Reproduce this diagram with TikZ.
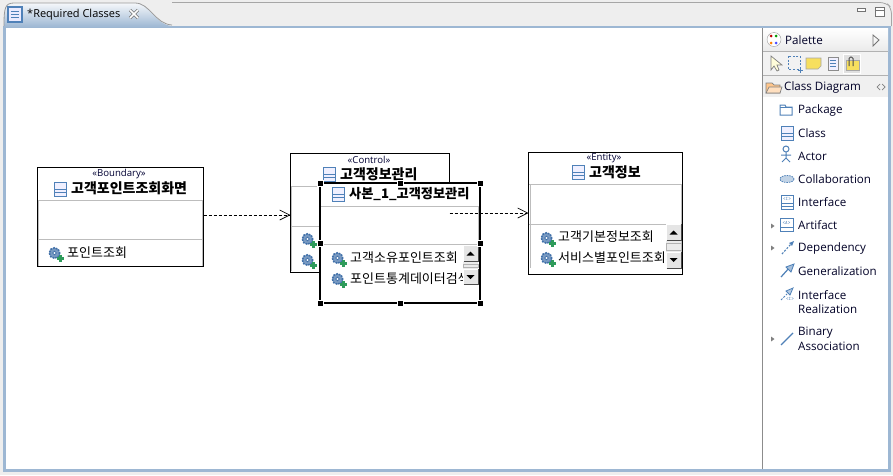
\documentclass[tikz,border=0pt]{standalone}
\usepackage{fontspec}
\setmainfont{Open Sans}
\newfontfamily\kr{Noto Sans CJK KR}
\usetikzlibrary{arrows.meta,calc}
\definecolor{frameblue}{HTML}{9DB7D3}
\definecolor{outerbg}{HTML}{EEEEEE}
\definecolor{compline}{HTML}{BDBDBD}
\definecolor{iconblue}{HTML}{4F81B8}
\definecolor{gearblue}{HTML}{3F6FA8}
\definecolor{plusgreen}{HTML}{2E9B5B}
\definecolor{notey}{HTML}{F7DF5E}
\newcommand{\myscroll}[4]{% x, y top, down button top, bottom
  \fill[black!8] (#1,#2) rectangle (#1+15,#4);
  \draw[black!30,line width=.7pt] (#1,#2+19) rectangle (#1+15,#3-2);
  \draw[btn] (#1,#2) rectangle (#1+15,#2+16.5);
  \draw[btn] (#1,#3) rectangle (#1+15,#4);
  \draw[black!70,line width=1pt] (#1+.5,#2+16.8) -- (#1+15.5,#2+16.8) -- (#1+15.5,#2);
  \draw[black!70,line width=1pt] (#1+.5,#4+.5) -- (#1+15.5,#4+.5) -- (#1+15.5,#3);
  \fill[black] (#1+3.5,#2+10.5) -- (#1+11.5,#2+10.5) -- (#1+7.5,#2+6.5) -- cycle;
  \fill[black] (#1+3.5,#3+6) -- (#1+11.5,#3+6) -- (#1+7.5,#3+10) -- cycle;
}
\tikzset{
  x=1pt,y=-1pt,
  umlbox/.style={draw=black,line width=1pt,fill=white,inner sep=0pt,outer sep=0pt,anchor=north west},
  selbox/.style={draw=black,line width=2pt,fill=white,inner sep=0pt,outer sep=0pt,anchor=north west},
  stereo/.style={font=\fontsize{9.6}{10}\selectfont,inner sep=0pt,text=black!80!blue},
  title/.style={font=\kr\bfseries\fontsize{14}{15}\selectfont,inner sep=0pt,anchor=west},
  oper/.style={font=\kr\fontsize{13}{15}\selectfont,inner sep=0pt,anchor=west},
  pal/.style={font=\fontsize{11.6}{15}\selectfont,inner sep=0pt,anchor=west,text=black!85!blue,align=left,yshift=-.5pt},
  dep/.style={dash pattern=on 3pt off 2pt,line width=1pt,-{Straight Barb[length=10pt,width=10pt,line width=.7pt]}},
  handle/.style={fill=black,draw=white,line width=.6pt,minimum size=6pt,inner sep=0pt},
  btn/.style={fill=black!10,draw=white,line width=.7pt},
  comp/.style={compline,line width=1pt},
  ic/.style={iconblue,line width=1pt,fill=white},
  classicon/.pic={
    \draw[ic,fill=blue!6] (-6,-7) rectangle (6,7);
    \draw[ic] (-6,0) -- (6,0) (-6,3) -- (6,3);
  },
  gearadd/.pic={
    \fill[gearblue!70] (0,0) circle (5.5);
    \draw[gearblue,line width=1.6pt,dash pattern=on 1.6pt off 1.2pt] (0,0) circle (5.2);
    \fill[white] (0,0) circle (1.9);
    \draw[gearblue,line width=.6pt] (0,0) circle (1.9);
    \fill[plusgreen] (2.5,4.3) rectangle (9.5,6.7);
    \fill[plusgreen] (4.8,2) rectangle (7.2,9);
  }
}
\begin{document}
\begin{tikzpicture}
\useasboundingbox (0,0) rectangle (893,475);
\fill[outerbg] (0,0) rectangle (893,475);
% editor frame
\draw[black!35,line width=.8pt,rounded corners=6pt] (172,2.5) -- (886,2.5) -- (891.5,8) -- (891.5,26);
\fill[frameblue] (3,26) rectangle (891,472);
\path[top color=white!90!frameblue,bottom color=frameblue] (4,27)
  .. controls (4,8) and (5,3) .. (14,3) -- (135,3) .. controls (150,3) and (155,25) .. (172,26) -- (172,27) -- cycle;
\draw[black!40,line width=.8pt] (4,26) .. controls (4,8) and (5,3) .. (14,3) -- (135,3) .. controls (150,3) and (155,24) .. (172,25);
\fill[white] (6,28) rectangle (888,469);
% tab
\begin{scope}[shift={(14,14)}]
  \draw[ic,fill=blue!8,line width=1.2pt] (-6,-7) rectangle (8,8);
  \draw[iconblue,line width=.8pt] (-3,-3) -- (5,-3) (-3,0) -- (5,0) (-3,3) -- (5,3);
\end{scope}
\node[font=\fontsize{11}{14}\selectfont,inner sep=0pt,anchor=west] (tabtitle) at (27,15) {*Required Classes};
\draw[black!55,line width=3pt] (130,10) -- (138,18) (138,10) -- (130,18);
\draw[white,line width=1.6pt] (130,10) -- (138,18) (138,10) -- (130,18);
% window buttons
\draw[black!55,fill=white,line width=.8pt] (857,8) rectangle (865,11);
\draw[black!55,fill=white,line width=.8pt] (875,7) rectangle (884,16);
\draw[black!55,line width=.8pt] (875,10) -- (884,10);
% palette
\draw[black!45,line width=1pt] (762.5,28) -- (762.5,469);
\path[top color=white,bottom color=black!8] (763,28) rectangle (888,51);
\fill[black!5] (763,52) rectangle (888,75);
\fill[black!6] (763,76) rectangle (888,97);
\draw[black!30] (763,51.5) -- (888,51.5) (763,75.5) -- (888,75.5);
\fill[black!12,draw=white] (843,54) rectangle (860,73);
% palette icon
\draw[black!40,fill=white] (774,39.5) circle (7);
\fill[red!75!black] (771,36) circle (1.5);
\fill[green!60!black] (776,36) circle (1.5);
\fill[orange] (771,43) circle (1.5);
\fill[blue!70] (776,43) circle (1.5);
\node[pal] (paltitle) at (785,39.5) {Palette};
\draw[black!55,line width=.8pt] (873,35) -- (879,40) -- (873,46) -- cycle;
% toolbar icons
\draw[black!50,fill=yellow!15,line width=.7pt] (771,56) -- (771,70) -- (774,66) -- (777,71) -- (779,70) -- (777,65) -- (782,65) -- cycle;
\draw[iconblue,line width=1pt,dash pattern=on 2pt off 1.6pt] (788,56) rectangle (800,69);
\draw[iconblue,line width=.8pt] (798,70) -- (803,70) (800.5,67.5) -- (800.5,72.5);
\fill[notey] (806,58) -- (821,58) -- (821,66) -- (818,69) -- (806,69) -- cycle;
\draw[black!35,line width=.6pt] (806,58) -- (821,58) -- (821,66) -- (818,69) -- (806,69) -- cycle;
\draw[black!45,fill=blue!6,line width=.7pt] (828,57) rectangle (838,70);
\draw[iconblue,line width=.6pt] (830,60) -- (836,60) (830,63) -- (836,63) (830,66) -- (836,66);
\fill[notey] (846,60) rectangle (859,70);
\draw[black!35,line width=.6pt] (846,60) rectangle (859,70);
\draw[black!70,line width=1pt,rounded corners=1.5pt] (849,66) -- (849,57) -- (853,57) -- (853,66);
% drawer
\draw[black!50,fill=orange!45,line width=.7pt] (766,93) -- (766,83) -- (772,83) -- (774,85) -- (780,85) -- (780,93) -- cycle;
\draw[black!50,fill=orange!25,line width=.7pt] (766,93) -- (769,87) -- (782,87) -- (780,93) -- cycle;
\node[pal] (drawer) at (784,87) {Class Diagram};
\draw[black!50,line width=.7pt] (880,84) -- (877,87) -- (880,90) (882,84) -- (885,87) -- (882,90);
% palette entries
\node[pal] (ppackage) at (798,110) {Package};
\node[pal] (pclass) at (798,133) {Class};
\node[pal] (pactor) at (798,156) {Actor};
\node[pal] (pcollab) at (798,179) {Collaboration};
\node[pal] (pinterface) at (798,202) {Interface};
\node[pal] (partifact) at (798,225) {Artifact};
\node[pal] (pdep) at (798,248) {Dependency};
\node[pal] (pgen) at (798,271) {Generalization};
\node[pal] (pir) at (798,301.5) {Interface\\[-.5pt]Realization};
\node[pal] (pba) at (798,338.5) {Binary\\[-.5pt]Association};
% palette icons
\draw[iconblue,line width=1pt,fill=white] (780,115) -- (780,105) -- (785,105) -- (786,107) -- (792,107) -- (792,115) -- cycle;
\draw[iconblue,line width=.8pt] (780,107.5) -- (792,107.5);
\path pic at (787,133) {classicon};
\draw[iconblue,line width=1pt] (786,149) circle (3) (786,152) -- (786,158) (781,155) -- (791,155) (786,158) -- (782,162) (786,158) -- (790,162);
\draw[iconblue,dash pattern=on 1.5pt off 1pt,fill=iconblue!35,line width=.8pt] (787,179) ellipse (7 and 3.5);
\draw[ic,fill=white] (781,195) rectangle (793,209);
\draw[iconblue,line width=.8pt] (781,203) -- (793,203) (781,206) -- (793,206);
\node[inner sep=0pt,font=\fontsize{5}{5}\selectfont\ttfamily,text=iconblue] (iconi) at (787,199) {<I>};
\draw[ic,fill=white] (780,218) rectangle (793,231);
\draw[iconblue,line width=.8pt] (780,227) -- (793,227);
\node[inner sep=0pt,font=\fontsize{5}{5}\selectfont\ttfamily,text=iconblue] (icona) at (786.5,222.5) {<A>};
\draw[iconblue,line width=1.1pt,dash pattern=on 2pt off 1.5pt] (782,254) -- (791,244);
\fill[iconblue] (794,241) -- (789,243) -- (792,246) -- cycle;
\draw[iconblue,line width=1.2pt] (781,277) -- (790,267);
\draw[iconblue,fill=iconblue!50,line width=.8pt] (794,264) -- (786,267) -- (791,272) -- cycle;
\draw[iconblue,line width=1pt,dash pattern=on 2pt off 1.5pt] (781,300) -- (787,294);
\draw[iconblue,fill=iconblue!40,line width=.8pt] (793,288) -- (786,291) -- (790,295) -- cycle;
\node[inner sep=0pt,font=\fontsize{5}{5}\selectfont\ttfamily,text=iconblue] (iconr) at (790,299) {<I>};
\draw[iconblue,line width=1.1pt] (781,345) -- (793,333);
\fill[black!50] (771,223.5) -- (774.5,226) -- (771,228.5) -- cycle;
\fill[black!50] (771,245.5) -- (774.5,248) -- (771,250.5) -- cycle;
\fill[black!50] (771,336.5) -- (774.5,339) -- (771,341.5) -- cycle;

% Boundary class
\node[umlbox,minimum width=166pt,minimum height=99pt] (bnd) at (37.5,167.5) {};
\node[stereo] (bndst) at (119,174) {«Boundary»};
\path pic at (60.5,189) {classicon};
\node[title] (bndtt) at (71,188) {고객포인트조회화면};
\draw[comp] (38,200.5) -- (203,200.5) (38,239.5) -- (203,239.5);
\draw[comp] (38.5,201) -- (38.5,266) (202.5,201) -- (202.5,266);
\path pic at (54.5,253) {gearadd};
\node[oper] (bndop) at (67,253) {포인트조회};

% Control class
\node[umlbox,minimum width=159pt,minimum height=119pt] (ctl) at (290.5,153.5) {};
\node[stereo] (ctlst) at (369,160) {«Control»};
\path pic at (329.5,174) {classicon};
\node[title] (ctltt) at (340,174) {고객정보관리};
\draw[comp] (291,186.5) -- (449,186.5) (291,226) -- (449,226);
\draw[comp] (291.5,187) -- (291.5,271);
\path pic at (307.5,239) {gearadd};
\path pic at (307.5,260) {gearadd};

% Entity class
\node[umlbox,minimum width=154pt,minimum height=122pt] (ent) at (528.5,152.5) {};
\node[stereo] (entst) at (604,158) {«Entity»};
\path pic at (578,172) {classicon};
\node[title] (enttt) at (589,172) {고객정보};
\draw[comp] (529,184.5) -- (682,184.5) (529,224) -- (682,224);
\draw[comp] (530,185) -- (530,268) (681.5,185) -- (681.5,268);
\path pic at (546.5,238) {gearadd};
\path pic at (546.5,258) {gearadd};
\node[oper] (entop1) at (558,237) {고객기본정보조회};
\node[oper] (entop2) at (558,258) {서비스별포인트조회};
\myscroll{666}{224}{252}{268}

% Copy of control class
\node[selbox,minimum width=160pt,minimum height=120pt] (cpy) at (320,183) {};
\path pic at (338,194) {classicon};
\node[title,font=\kr\bfseries\fontsize{13.2}{15}\selectfont] (cpytt) at (349,194) {사본\_1\_고객정보관리};
\draw[comp] (321,206) -- (479,206) (321,244.5) -- (479,244.5);
\draw[comp] (478.5,206) -- (478.5,244);
\path pic at (337.5,258) {gearadd};
\path pic at (337.5,279) {gearadd};
\node[oper] (cpyop1) at (350,258) {고객소유포인트조회};
\begin{scope}
  \clip (345,268) rectangle (463,290);
  \node[oper] (cpyop2) at (350,279) {포인트통계데이터검색};
\end{scope}
\myscroll{463}{245}{269}{284}
\foreach \n/\a in {h1/north west,h2/north,h3/north east,h4/west,h5/east,h6/south west,h7/south,h8/south east}
  \node[handle] (\n) at (cpy.\a) {};

% Dependencies
\coordinate (bndout) at (bnd.east |- 0,215);
\coordinate (ctlin) at (ctl.west |- 0,215);
\coordinate (ctlout) at (ctl.east |- 0,213);
\coordinate (entin) at (ent.west |- 0,213);
\draw[dep] (bndout) -- (ctlin);
\draw[dep] (ctlout) -- (entin);
\end{tikzpicture}
\end{document}
